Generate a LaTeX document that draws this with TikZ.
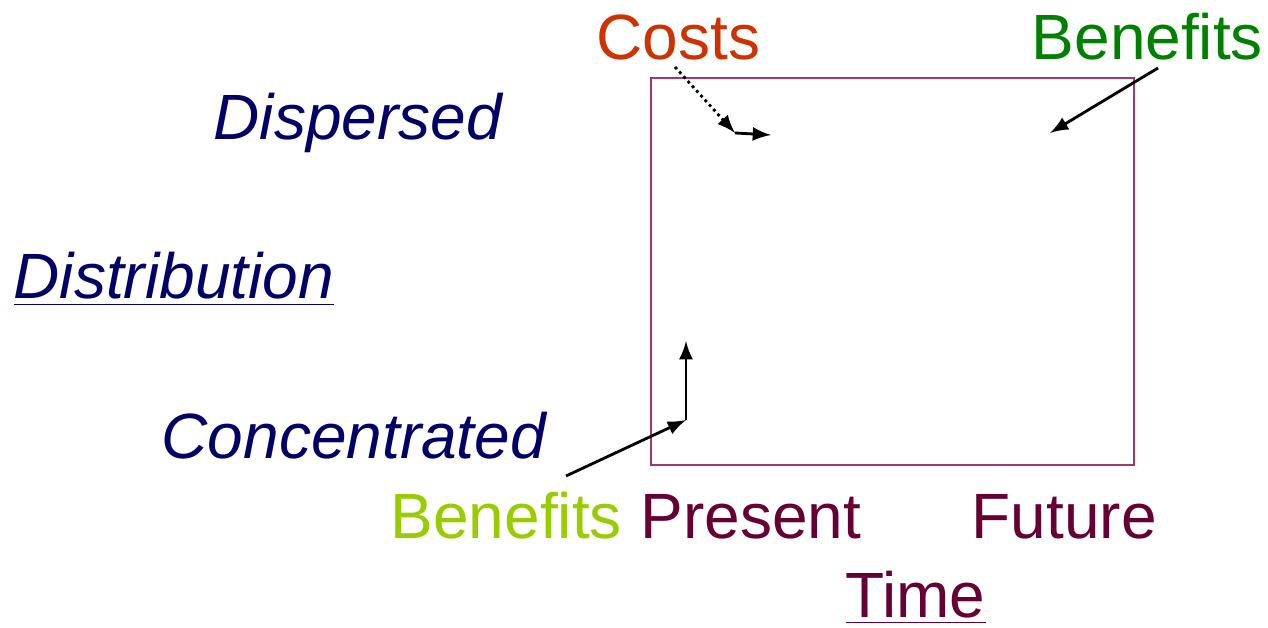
\documentclass[tikz,border=0pt]{standalone}
\usepackage{fontspec}
\setmainfont{Liberation Sans}
\usetikzlibrary{arrows}
\definecolor{navy}{RGB}{0,0,102}
\definecolor{costred}{RGB}{204,51,0}
\definecolor{bengreen}{RGB}{0,128,0}
\definecolor{benlime}{RGB}{153,204,0}
\definecolor{timeplum}{RGB}{102,0,51}
\definecolor{boxpink}{RGB}{170,50,110}
\tikzset{lbl/.style={inner sep=0pt, anchor=base west, font=\fontsize{18.2}{22}\selectfont}}

\begin{document}
\begin{tikzpicture}[x=0.01cm, y=-0.01cm]
\useasboundingbox (0,0) rectangle (1268,628);
\draw[boxpink, line width=0.6pt] (651,78) rectangle (1134,465);
\node[lbl, text=costred](costs) at (596,60){Costs};
\node[lbl, text=bengreen](benhi) at (1031,60){Benefits};
\node[lbl, text=navy](disp) at (213,140){\itshape Dispersed};
\node[lbl, text=navy](dist) at (13,299){\itshape\underline{Distribution}};
\node[lbl, text=navy](conc) at (161,458){\itshape Concentrated};
\node[lbl, text=benlime](benlo) at (390,538){Benefits};
\node[lbl, text=timeplum](pres) at (640,538){Present};
\node[lbl, text=timeplum](fut) at (971,538){Future};
\node[lbl, text=timeplum](time) at (845,617){\underline{Time}};
% arrow ends
\coordinate (c0) at (675,67);
\coordinate (c1) at (735,133);
\coordinate (c2) at (771,135);
\coordinate (b0) at (1158,68);
\coordinate (b1) at (1050,133);
\coordinate (l0) at (566,476);
\coordinate (l1) at (686,420);
\coordinate (l2) at (686,341);
\draw [-latex, densely dotted, thick](c0) -- (c1);
\draw [-latex, thick](c1) -- (c2);
\draw [-latex, thick](b0) -- (b1);
\draw [-latex, thick](l0) -- (l1);
\draw [-latex, thick](l1) -- (l2);
\end{tikzpicture}
\end{document}
